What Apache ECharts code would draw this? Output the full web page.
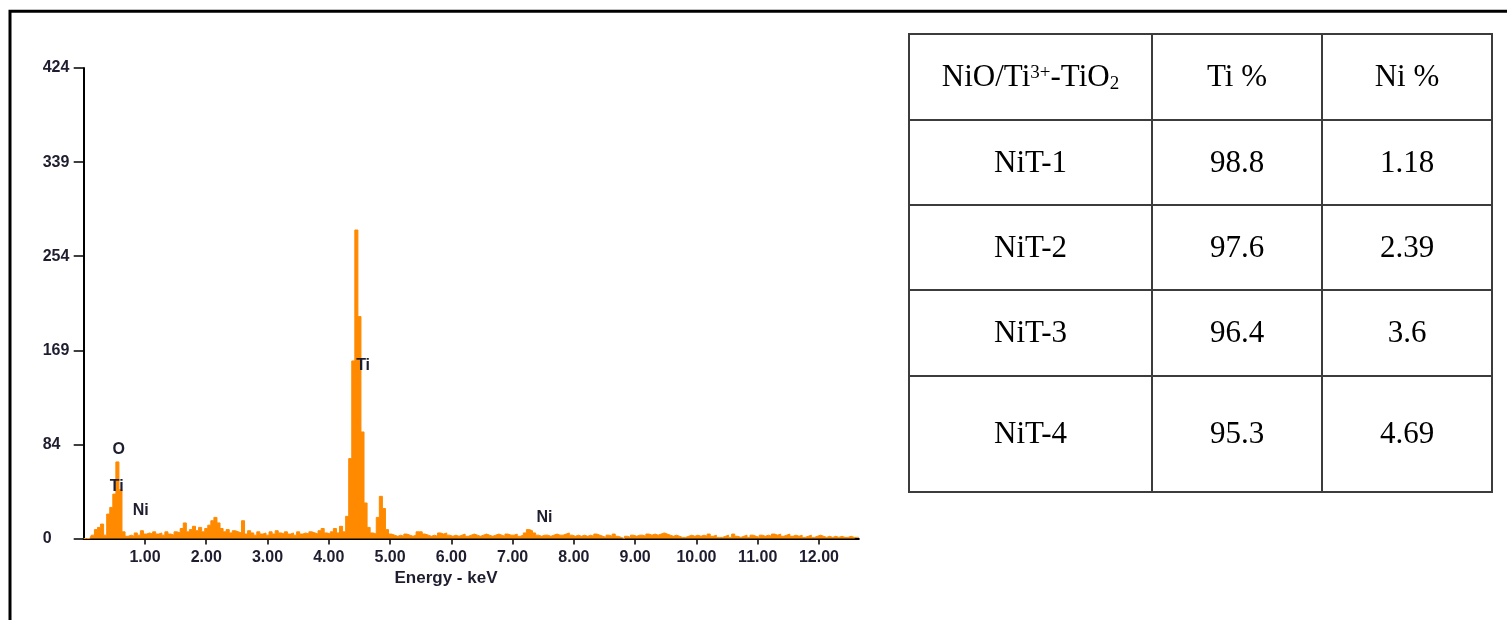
<!DOCTYPE html>
<html>
<head>
<meta charset="utf-8">
<script src="https://cdn.jsdelivr.net/npm/echarts@6/dist/echarts.min.js"></script>
<style>
  html, body { margin: 0; padding: 0; background: #ffffff; }
  #chart { width: 1507px; height: 620px; }
</style>
</head>
<body>
<div id="chart"></div>
<script>
// ---- EDS spectrum: counts per 0.05 keV channel, first channel at 0.00 keV ----
const channelStep = 0.05;
const counts = [
  0, 0, 0, 3, 8, 10, 13, 3, 22, 28,
  40, 69, 44, 6, 2, 3, 2, 5, 3, 7,
  4, 5, 4, 6, 4, 5, 3, 6, 4, 3,
  6, 5, 9, 14, 6, 8, 11, 7, 10, 6,
  9, 12, 16, 19, 14, 9, 6, 8, 5, 7,
  6, 5, 16, 4, 7, 5, 3, 6, 4, 5,
  3, 6, 4, 7, 5, 4, 6, 4, 5, 3,
  6, 4, 5, 4, 6, 5, 4, 7, 9, 5,
  4, 6, 9, 5, 11, 6, 20, 72, 160, 278,
  200, 96, 32, 10, 5, 4, 19, 38, 27, 8,
  4, 3, 2, 3, 2, 4, 3, 2, 3, 6,
  6, 4, 3, 2, 3, 2, 5, 4, 5, 3,
  2, 3, 2, 3, 4, 2, 3, 4, 3, 2,
  3, 4, 3, 2, 3, 4, 3, 2, 4, 3,
  3, 4, 2, 3, 5, 8, 7, 5, 3, 2,
  3, 3, 2, 3, 4, 3, 3, 4, 5, 3,
  2, 3, 2, 3, 2, 3, 2, 4, 3, 2,
  1, 3, 2, 4, 2, 1, 0, 2, 1, 3,
  2, 3, 3, 2, 4, 3, 4, 3, 4, 5,
  4, 3, 2, 3, 2, 1, 1, 2, 3, 2,
  3, 2, 3, 2, 4, 2, 3, 1, 1, 2,
  3, 1, 4, 2, 1, 2, 3, 1, 3, 2,
  1, 3, 2, 3, 2, 4, 3, 4, 2, 3,
  4, 2, 3, 2, 3, 1, 2, 3, 1, 2,
  3, 2, 1, 2, 1, 2, 1, 2, 1, 1,
  2, 1, 1, 1
];

// Axis ranges and tick labels
const energyMax = 12.65;
const xTickValues = [1, 2, 3, 4, 5, 6, 7, 8, 9, 10, 11, 12];
const countsMax = 424;
const yTickLabels = ['0', '84', '169', '254', '339', '424'];

// Element markers on the spectrum: [energy keV, counts]
const peakNames = ['O', 'Ti', 'Ni', 'Ti', 'Ni'];
const peakEnergies = [0.57, 0.54, 0.93, 4.56, 7.52];
const peakCounts = [80.5, 46.7, 24.8, 155.4, 18.6];

// ---- Composition table ----
const tableHeader = ['NiO/Ti{sup|3+}-TiO{sub|2}', 'Ti %', 'Ni %'];
const samples = ['NiT-1', 'NiT-2', 'NiT-3', 'NiT-4'];
const tiPercent = [98.8, 97.6, 96.4, 95.3];
const niPercent = [1.18, 2.39, 3.6, 4.69];

// Table layout (relative column widths / row heights)
const colWidths = [243, 170, 170];
const rowHeights = [86, 85, 85, 86, 116];
const colEdges = colWidths.reduce((a, w) => (a.push(a[a.length - 1] + w), a), [0]);
const rowEdges = rowHeights.reduce((a, h) => (a.push(a[a.length - 1] + h), a), [0]);

const spectrum = counts.map((c, i) => [+(i * channelStep).toFixed(2), c]);
const yStep = countsMax / (yTickLabels.length - 1);
const yTickValues = yTickLabels.map((_, i) => yStep * i);

const cells = [];
tableHeader.forEach((t, c) => cells.push({ col: c, row: 0, text: t }));
samples.forEach((s, r) => {
  cells.push({ col: 0, row: r + 1, text: s });
  cells.push({ col: 1, row: r + 1, text: String(tiPercent[r]) });
  cells.push({ col: 2, row: r + 1, text: String(niPercent[r]) });
});

const axisFont = {
  fontFamily: 'Liberation Sans, Arial, sans-serif',
  fontWeight: 'bold',
  fontSize: 16,
  color: '#1e1e30'
};
const orange = '#FF8A00';
const cellFont = 'Liberation Serif, Times New Roman, serif';
const cellFontSize = 31;

const chart = echarts.init(document.getElementById('chart'), null, { renderer: 'canvas' });

chart.setOption({
  backgroundColor: '#ffffff',
  animation: false,
  grid: [
    { left: 83.7, right: 648.2, top: 68, bottom: 81.5 },
    { left: 909, top: 34, width: 583, height: 458 }
  ],
  xAxis: [
    {
      gridIndex: 0,
      type: 'value',
      min: 0,
      max: energyMax,
      splitLine: { show: false },
      axisLine: { show: true, onZero: false, lineStyle: { color: '#000', width: 2 } },
      axisTick: { show: true, length: 6, customValues: xTickValues, lineStyle: { color: '#000', width: 1.5 } },
      axisLabel: {
        show: true, margin: 11, customValues: xTickValues,
        formatter: v => v.toFixed(2),
        ...axisFont
      }
    },
    { gridIndex: 1, type: 'value', min: 0, max: colEdges[colEdges.length - 1], show: false }
  ],
  yAxis: [
    {
      gridIndex: 0,
      type: 'value',
      min: 0,
      max: countsMax,
      splitLine: { show: false },
      axisLine: { show: true, lineStyle: { color: '#000', width: 2 } },
      axisTick: { show: true, length: 10, customValues: yTickValues, lineStyle: { color: '#000', width: 1.5 } },
      axisLabel: {
        show: true, margin: 41, align: 'left', customValues: yTickValues,
        formatter: v => yTickLabels[Math.round(v / yStep)],
        ...axisFont
      }
    },
    { gridIndex: 1, type: 'value', min: 0, max: rowEdges[rowEdges.length - 1], inverse: true, show: false }
  ],
  graphic: [
    {
      type: 'rect', z: -1, silent: true,
      shape: { x: 10, y: 11.3, width: 1700, height: 800 },
      style: { fill: 'none', stroke: '#000', lineWidth: 3 }
    },
    {
      type: 'text', x: 446, y: 578, silent: true,
      style: {
        text: 'Energy - keV', align: 'center', verticalAlign: 'middle',
        font: 'bold 17px "Liberation Sans", Arial, sans-serif', fill: '#1e1e30'
      }
    }
  ],
  series: [
    {
      type: 'line',
      xAxisIndex: 0, yAxisIndex: 0,
      data: spectrum,
      step: 'middle',
      showSymbol: false,
      symbol: 'none',
      lineStyle: { color: orange, width: 1 },
      areaStyle: { color: orange, opacity: 1 },
      z: 2
    },
    {
      type: 'scatter',
      xAxisIndex: 0, yAxisIndex: 0,
      symbolSize: 1,
      itemStyle: { color: 'rgba(0,0,0,0)', opacity: 1 },
      data: peakNames.map((n, i) => ({ name: n, value: [peakEnergies[i], peakCounts[i]] })),
      label: {
        show: true, position: 'inside', formatter: '{b}',
        textBorderWidth: 0, opacity: 1,
        ...axisFont
      },
      z: 5
    },
    {
      type: 'custom',
      xAxisIndex: 1, yAxisIndex: 1,
      data: cells.map(c => [c.col, c.row]),
      clip: false,
      renderItem: (params, api) => {
        const cell = cells[params.dataIndex];
        const p0 = api.coord([colEdges[cell.col], rowEdges[cell.row]]);
        const p1 = api.coord([colEdges[cell.col + 1], rowEdges[cell.row + 1]]);
        return {
          type: 'group',
          children: [
            {
              type: 'rect',
              shape: { x: p0[0], y: p0[1], width: p1[0] - p0[0], height: p1[1] - p0[1] },
              style: { fill: '#ffffff', stroke: '#3c3c3c', lineWidth: 2 }
            },
            {
              type: 'text',
              x: (p0[0] + p1[0]) / 2,
              y: (p0[1] + p1[1]) / 2 + 1,
              style: {
                text: cell.text,
                align: 'center',
                verticalAlign: 'middle',
                fontFamily: cellFont,
                fontSize: cellFontSize,
                fill: '#000',
                lineHeight: 40,
                rich: {
                  sup: {
                    fontFamily: cellFont,
                    fontSize: 19, verticalAlign: 'top', lineHeight: 40, padding: [6, 0, 0, 0], fill: '#000'
                  },
                  sub: {
                    fontFamily: cellFont,
                    fontSize: 19, verticalAlign: 'bottom', lineHeight: 40, padding: [0, 0, 4, 0], fill: '#000'
                  }
                }
              }
            }
          ]
        };
      }
    }
  ]
});
</script>
</body>
</html>
